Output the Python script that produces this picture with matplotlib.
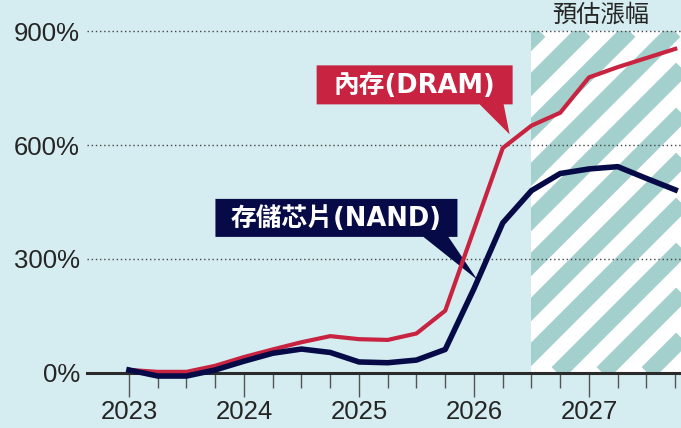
import matplotlib.pyplot as plt
from matplotlib.patches import Rectangle, Polygon
from matplotlib.lines import Line2D
from matplotlib.transforms import IdentityTransform

# quarterly points, 2023Q1 .. 2027Q4 (growth in %)
quarters = [2023.0, 2023.25, 2023.5, 2023.75,
            2024.0, 2024.25, 2024.5, 2024.75,
            2025.0, 2025.25, 2025.5, 2025.75,
            2026.0, 2026.25, 2026.5, 2026.75,
            2027.0, 2027.25, 2027.5, 2027.75]
dram = [8, 3, 3, 19, 42, 62, 81, 97, 89, 87, 104, 164,
        378, 592, 651, 685, 778, 805, 829, 853]
nand = [8, -8, -8, 8, 31, 52, 63, 54, 29, 27, 34, 62,
        222, 395, 480, 525, 537, 543, 512, 482]

years = [2023, 2024, 2025, 2026, 2027]
yticks = [0, 300, 600, 900]
forecast_start = 2026.5
forecast_label = "預估漲幅"
dram_label = "內存(DRAM)"
nand_label = "存儲芯片(NAND)"

BG = "#d5edf1"
TEAL = "#a3cfcc"
RED = "#c82341"
NAVY = "#060b48"
INK = "#252525"
CJK = ["Noto Sans CJK TC", "DejaVu Sans"]
LABEL_FONT = ["DejaVu Sans", "Noto Sans CJK TC"]

plt.rcParams["font.family"] = ["Liberation Sans", "DejaVu Sans"]

fig = plt.figure(figsize=(6.81, 4.28), dpi=100, facecolor=BG)
ax = fig.add_axes([87 / 681, 0.1019, 594 / 681, 0.8789])
ax.set_facecolor(BG)
xmin, xmax = 2022.635, 2027.8
ax.set_xlim(xmin, xmax)
ax.set_ylim(-30, 960)
ax.set_autoscale_on(False)

for s in ["left", "top", "right"]:
    ax.spines[s].set_visible(False)
ax.spines["bottom"].set_position(("data", 0))
ax.spines["bottom"].set_linewidth(2.2)
ax.spines["bottom"].set_color("#2b2b2b")

ax.set_xticks(years)
ax.set_xticklabels([str(y) for y in years])
ax.set_xticks(quarters, minor=True)
ax.tick_params(axis="x", which="major", length=17.3, width=1, color="#555555",
               labelsize=18.5, labelcolor=INK, pad=2)
ax.tick_params(axis="x", which="minor", length=10.8, width=1, color="#555555")

ax.set_yticks(yticks)
ax.set_yticklabels([f"{v}%" for v in yticks])
ax.tick_params(axis="y", length=0, labelsize=18.5, labelcolor=INK, pad=5)
ax.set_axisbelow("line")
ax.yaxis.grid(True, color="#444444", lw=1, linestyle=(0, (1, 2)))

# forecast region: white base with teal diagonal stripes
rect = Rectangle((forecast_start, 0), xmax - forecast_start, yticks[-1],
                 facecolor="white", edgecolor="none", zorder=0.8)
ax.add_patch(rect)
x0d, y0d = ax.transData.transform((forecast_start, 0))
x1d, y1d = ax.transData.transform((xmax, yticks[-1]))
h = y1d - y0d
c = x0d - h + 8
while c < x1d + 20:
    ln = Line2D([c, c + h], [y0d, y1d], transform=IdentityTransform(),
                color=TEAL, lw=12, solid_capstyle="butt", zorder=0.9)
    ax.add_line(ln)
    ln.set_clip_path(rect)
    c += 45

ax.text(2027.1, 944, forecast_label, ha="center", va="center", fontsize=17.5,
        color=INK, family=CJK, clip_on=False)


def callout(tip, text, box, base, color, z):
    tx, ty = ax.transData.transform(tip)
    l, r, b, t = box
    poly = Polygon([(tx + l, ty + b), (tx + base[0], ty + b), (tx, ty),
                    (tx + base[1], ty + b), (tx + r, ty + b),
                    (tx + r, ty + t), (tx + l, ty + t)],
                   closed=True, transform=IdentityTransform(),
                   facecolor=color, edgecolor="none", zorder=z, clip_on=False)
    ax.add_patch(poly)
    ax.text(tx + (l + r) / 2, ty + (b + t) / 2 - 1, text,
            transform=IdentityTransform(), ha="center", va="center",
            color="white", fontsize=18.5, fontweight="bold", family=LABEL_FONT,
            zorder=z + 0.1)


callout((2026.31, 628), dram_label, (-193, 3, 30, 69), (-30, -6), RED, 5)
callout((2026.03, 245), nand_label, (-262, -20, 43, 81), (-54, -29), NAVY, 2.7)

ax.plot(quarters, dram, color=RED, lw=3, zorder=3, clip_on=False)
ax.plot(quarters, nand, color=NAVY, lw=4, zorder=4, clip_on=False)

fig.savefig("out.png", dpi=100, facecolor=BG)
